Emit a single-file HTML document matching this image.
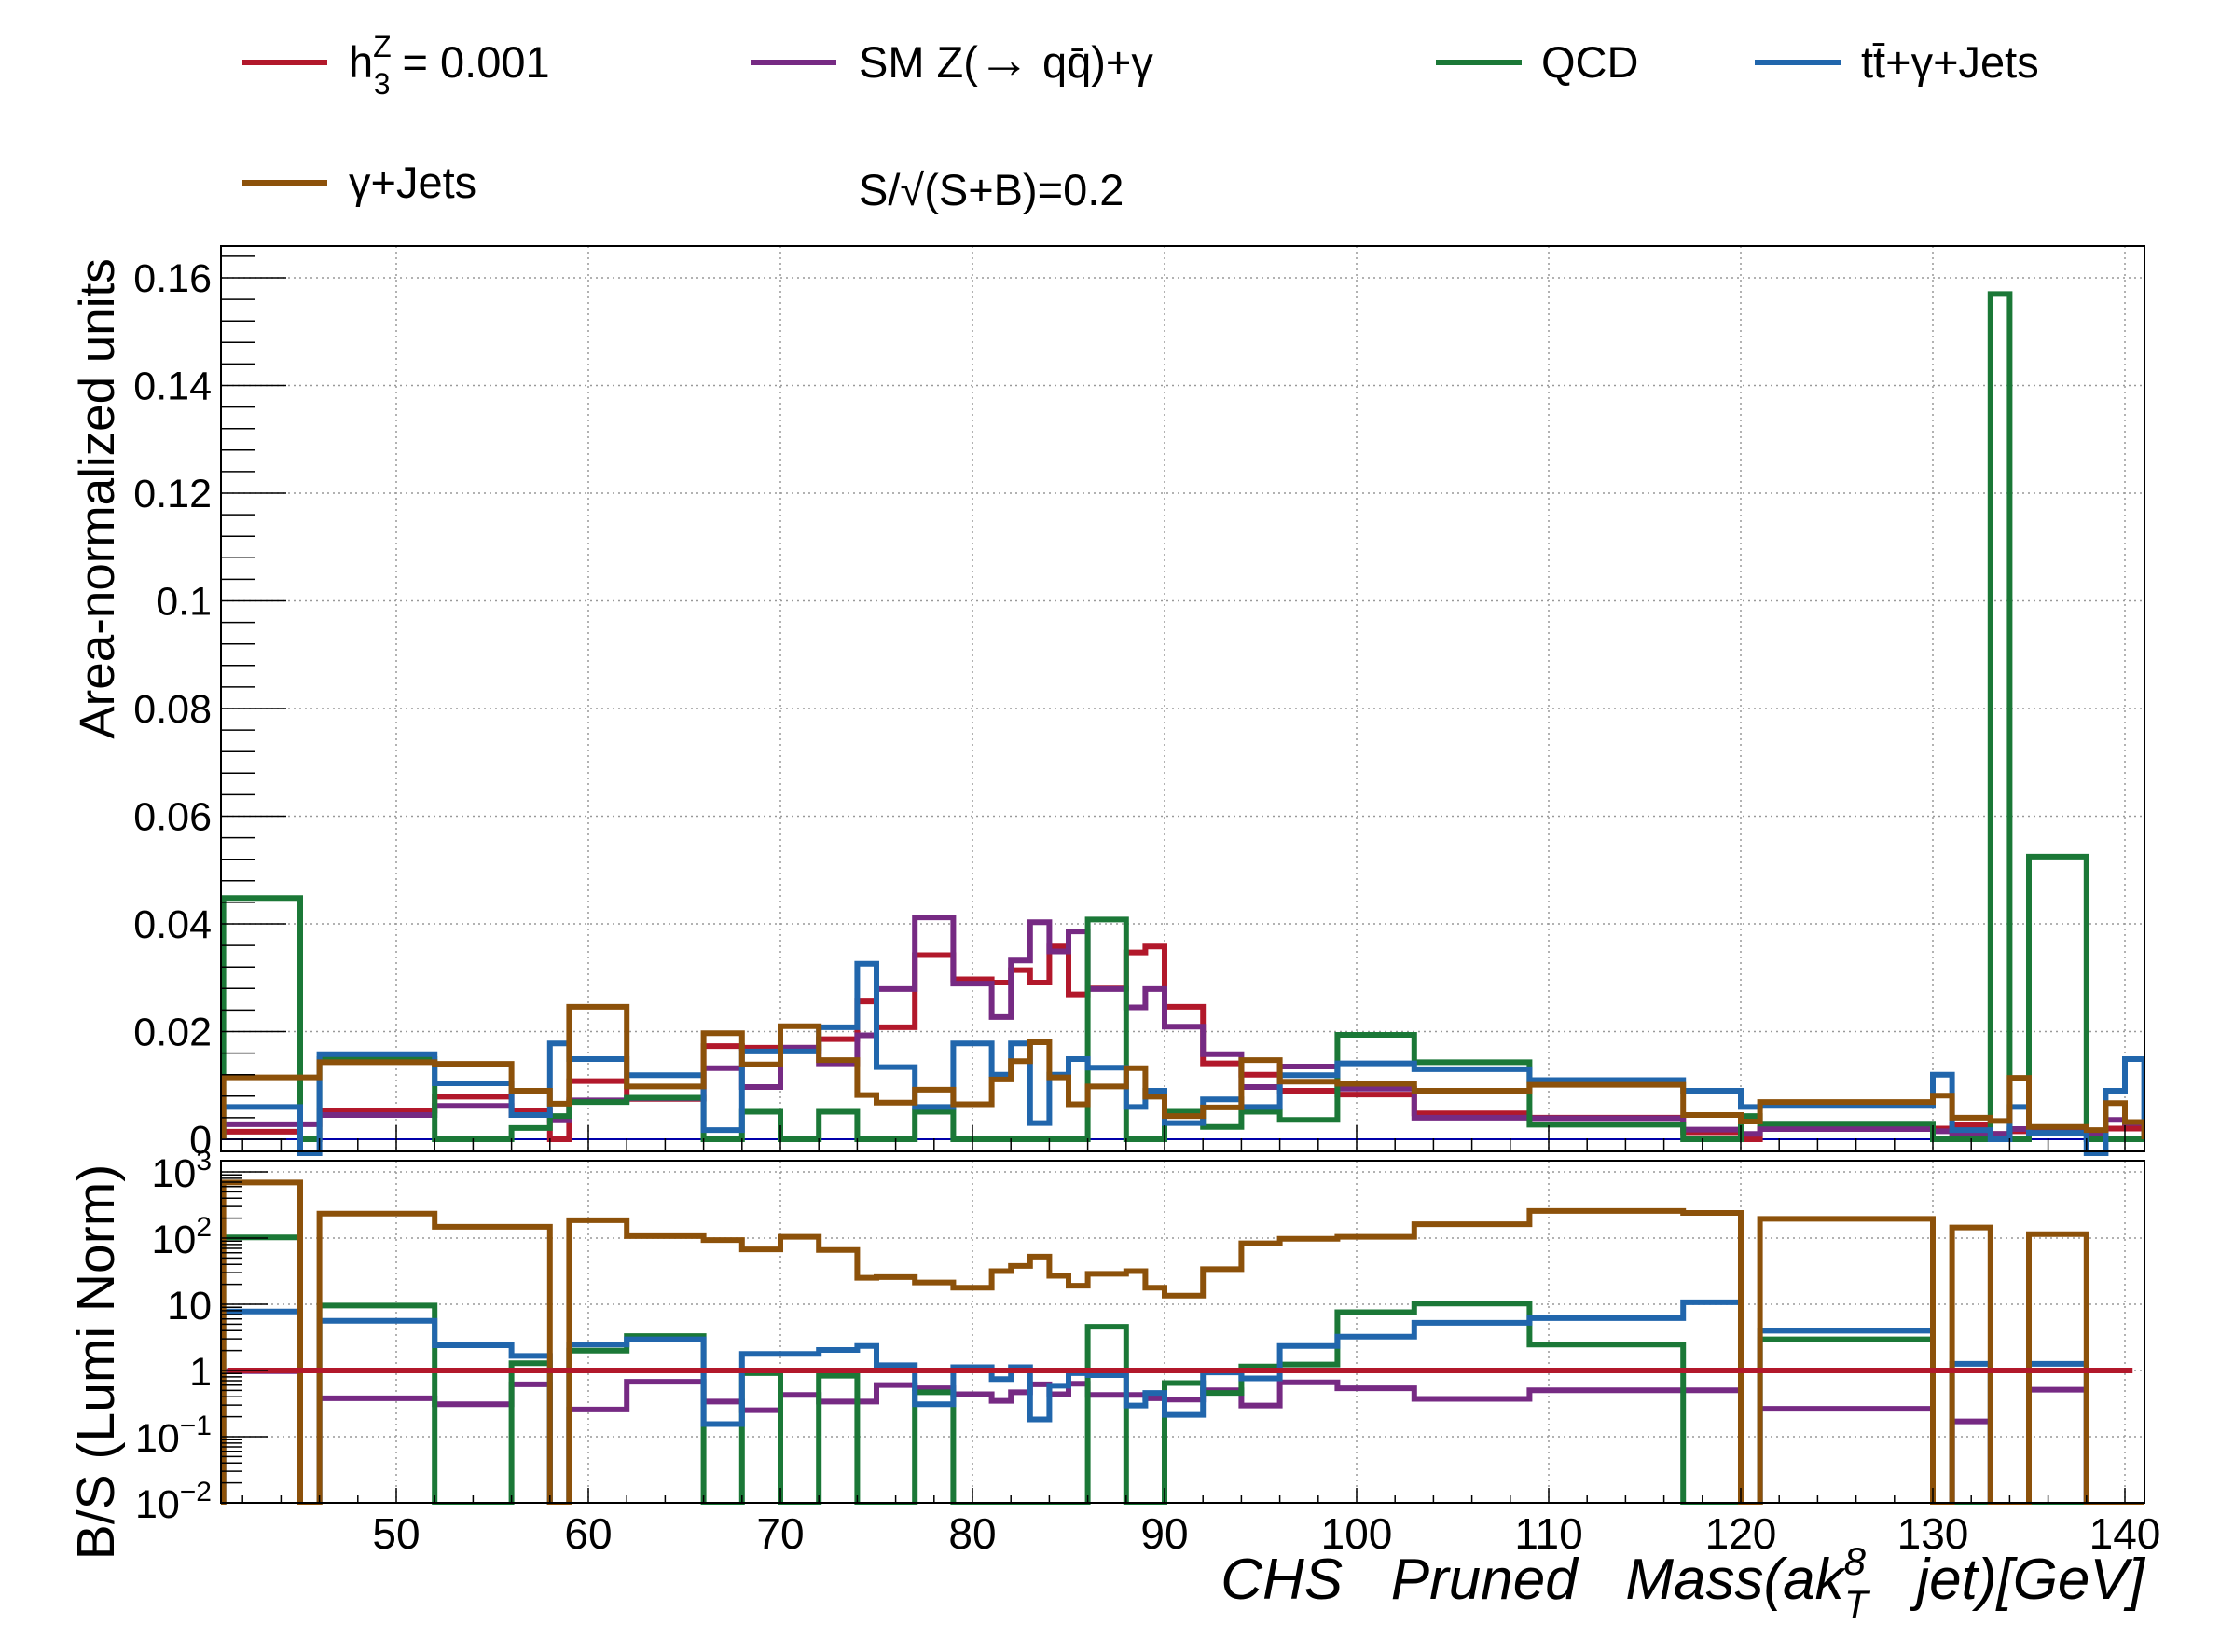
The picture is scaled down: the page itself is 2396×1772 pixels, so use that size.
<!DOCTYPE html>
<html><head><meta charset="utf-8"><style>
html,body{margin:0;padding:0;background:#fff;}
svg{display:block;font-family:"Liberation Sans",Arial,sans-serif;}
</style></head><body>
<svg id="chart" width="2396" height="1772" viewBox="0 0 2396 1772" xmlns="http://www.w3.org/2000/svg">
<defs>
<clipPath id="clipU"><rect x="237" y="264" width="2063" height="976"/></clipPath>
<clipPath id="clipL"><rect x="237" y="1245" width="2063" height="369"/></clipPath>
</defs>
<rect x="0" y="0" width="2396" height="1772" fill="#fff"/>
<g id="gridU"></g>
<g id="gridL"></g>
<g id="histU" clip-path="url(#clipU)"></g>
<g id="histL" clip-path="url(#clipL)"></g>
<rect x="237" y="264" width="2063" height="971" fill="none" stroke="#000" stroke-width="2"/>
<rect x="237" y="1245" width="2063" height="367" fill="none" stroke="#000" stroke-width="2"/>
<g id="axes"></g>

<g font-size="47">
 <g><line x1="260" y1="67" x2="351" y2="67" stroke="#B2182B" stroke-width="6"/><text x="374" y="83">h<tspan font-size="32" dy="-22">Z</tspan><tspan font-size="32" dx="-19" dy="40">3</tspan><tspan dy="-18"> = 0.001</tspan></text></g>
 <g><line x1="805" y1="67" x2="897" y2="67" stroke="#762A83" stroke-width="6"/><text x="921" y="83">SM Z(<tspan font-size="56">→</tspan> qq̄)+γ</text></g>
 <g><line x1="1540" y1="67" x2="1632" y2="67" stroke="#1B7837" stroke-width="6"/><text x="1653" y="83">QCD</text></g>
 <g><line x1="1882" y1="67" x2="1974" y2="67" stroke="#2166AC" stroke-width="6"/><text x="1996" y="83">tt̄+γ+Jets</text></g>
 <g><line x1="260" y1="196" x2="351" y2="196" stroke="#8C510A" stroke-width="6"/><text x="374" y="212">γ+Jets</text></g>
 <text x="921" y="220">S/√(S+B)=0.2</text>
</g>
<text transform="translate(122,535) rotate(-90)" text-anchor="middle" font-size="53">Area-normalized units</text>
<text transform="translate(122,1461) rotate(-90)" text-anchor="middle" font-size="57">B/S (Lumi Norm)</text>
<text x="2300" y="1715" text-anchor="end" font-size="62" font-style="italic" xml:space="preserve">CHS   Pruned   Mass(ak<tspan font-size="42" dy="-26">8</tspan><tspan font-size="42" dx="-23" dy="46">T</tspan><tspan dy="-20">   jet)[GeV]</tspan></text>
</svg>
<script>
const edges=[41,45,46,52,56,58,59,62,66,68,70,72,74,75,77,79,81,82,83,84,85,86,88,89,90,92,94,96,99,103,109,117,120,121,130,131,133,134,135,138,139,140,141];
const signalVals=[0.0014,0,0.0053,0.0079,0.0053,0,0.0108,0.0075,0.0173,0.017,0.017,0.0186,0.0256,0.0208,0.0342,0.0297,0.0291,0.0314,0.0291,0.0358,0.0269,0.028,0.0347,0.0358,0.0246,0.0141,0.012,0.009,0.0083,0.0048,0.004,0.0013,0,0.002,0.002,0.0026,0.001,0.0015,0.0015,0.001,0.002,0.002];
const smVals=[0.0028,0.0028,0.0045,0.0062,0.0045,0.0035,0.0072,0.0076,0.0132,0.0097,0.017,0.0141,0.0193,0.0279,0.0412,0.0289,0.0227,0.0332,0.0403,0.0349,0.0386,0.0279,0.0245,0.0279,0.0209,0.0158,0.0097,0.0135,0.0094,0.004,0.0039,0.0018,0.001,0.0019,0.0015,0.001,0.001,0.0019,0.0019,0.001,0.0036,0.003];
const qcdVals=[0.0448,0,0.0149,0,0.0021,0.0043,0.0069,0.0077,0,0.0051,0,0.0051,0,0,0.0051,0,0,0,0,0,0,0.0408,0,0,0.0051,0.0023,0.0051,0.0036,0.0194,0.0143,0.0027,0,0.0043,0.0029,0,0,0.157,0,0.0525,0,0,0];
const ttVals=[0.006,-0.0027,0.0158,0.0104,0.0045,0.0178,0.0149,0.0119,0.0017,0.0163,0.0163,0.0208,0.0326,0.0134,0.006,0.0178,0.012,0.0178,0.003,0.012,0.0149,0.0133,0.006,0.009,0.003,0.0074,0.006,0.0119,0.0141,0.013,0.011,0.009,0.006,0.0062,0.012,0.0017,0,0.006,0.0012,-0.0029,0.009,0.0149];
const gjVals=[0.0115,0.0115,0.0143,0.014,0.009,0.0066,0.0246,0.0098,0.0197,0.0139,0.021,0.0147,0.0082,0.0068,0.0092,0.0065,0.0111,0.0145,0.018,0.0115,0.0065,0.0098,0.0132,0.0079,0.0043,0.0059,0.0147,0.0107,0.0103,0.009,0.0101,0.0045,0.0033,0.0069,0.0081,0.004,0.0034,0.0114,0.0023,0.0017,0.0067,0.0032];
// ratio panel: log10(B/S); -3 = empty bin (drawn at bottom)
const ratioSM=[-0.01,-3,-0.42,-0.51,-0.21,-3,-0.59,-0.17,-0.47,-0.6,-0.37,-0.47,-0.47,-0.22,-0.27,-0.36,-0.46,-0.33,-0.21,-0.36,-0.2,-0.37,-0.37,-0.42,-0.44,-0.3,-0.53,-0.18,-0.27,-0.43,-0.3,-0.3,-3,-0.58,-3,-0.77,-3,-3,-0.29,-3,-3,-3];
const ratioQCD=[2.01,-3,0.98,-3,0.11,-3,0.3,0.52,-3,-0.04,-3,-0.08,-3,-3,-0.33,-3,-3,-3,-3,-3,-3,0.66,-3,-3,-0.19,-0.34,0.06,0.09,0.88,1.01,0.39,-3,-3,0.47,-3,-3,-3,-3,-3,-3,-3,-3];
const ratioTT=[0.89,-3,0.75,0.38,0.22,-3,0.39,0.47,-0.81,0.25,0.25,0.31,0.37,0.08,-0.51,0.05,-0.13,0.05,-0.74,-0.23,-0.04,-0.07,-0.53,-0.34,-0.67,-0.03,-0.12,0.37,0.51,0.72,0.79,1.03,-3,0.6,-3,0.1,-3,-3,0.1,-3,-3,-3];
const ratioGJ=[2.84,-3,2.37,2.17,2.17,-3,2.27,2.03,1.97,1.83,2.02,1.82,1.4,1.41,1.33,1.25,1.5,1.58,1.72,1.43,1.28,1.46,1.5,1.25,1.13,1.53,1.92,1.99,2.02,2.21,2.41,2.38,-3,2.29,-3,2.16,-3,-3,2.06,-3,-3,-3];
const yTicksU=[0,0.02,0.04,0.06,0.08,0.1,0.12,0.14,0.16];
const yLabelsU=["0","0.02","0.04","0.06","0.08","0.1","0.12","0.14","0.16"];
const xTicks=[50,60,70,80,90,100,110,120,130,140];
const logTicks=[-2,-1,0,1,2,3];

const NS="http://www.w3.org/2000/svg";
const X=v=>425+(v-50)*20.6;
const YU=v=>1222-v/0.02*115.5;
const YL=v=>1470-Math.max(-2.05,Math.min(3.3,v))*71;
function mk(tag,attrs,parent){const e=document.createElementNS(NS,tag);for(const k in attrs)e.setAttribute(k,attrs[k]);parent.appendChild(e);return e;}
function histPath(vals,Y,base){let d="M"+X(edges[0])+","+base;for(let i=0;i<vals.length;i++){d+=" L"+X(edges[i])+","+Y(vals[i])+" L"+X(edges[i+1])+","+Y(vals[i]);}d+=" L"+X(edges[edges.length-1])+","+base;return d;}

const gU=document.getElementById('gridU'),gL=document.getElementById('gridL'),ax=document.getElementById('axes');
const hU=document.getElementById('histU'),hL=document.getElementById('histL');
yTicksU.forEach(v=>{const l=mk('line',{x1:237,x2:2300,y1:YU(v),y2:YU(v),stroke:'#999','stroke-width':1.5,'stroke-dasharray':'2,4'},gU);

});
xTicks.forEach(v=>{const l=mk('line',{x1:X(v),x2:X(v),y1:264,y2:1235,stroke:'#999','stroke-width':1.5,'stroke-dasharray':'2,4'},gU);


const l2=mk('line',{x1:X(v),x2:X(v),y1:1245,y2:1612,stroke:'#999','stroke-width':1.5,'stroke-dasharray':'2,4'},gL);

});
logTicks.forEach(v=>{const l=mk('line',{x1:237,x2:2300,y1:YL(v),y2:YL(v),stroke:'#999','stroke-width':1.5,'stroke-dasharray':'2,4'},gL);

});
const z=mk('line',{x1:237,x2:2300,y1:YU(0),y2:YU(0),stroke:'#0000AA','stroke-width':2},hU);


[["signal-hist",signalVals,"#B2182B"],["sm-zgamma-hist",smVals,"#762A83"],["qcd-hist",qcdVals,"#1B7837"],["ttgamma-hist",ttVals,"#2166AC"],["gamma-jets-hist",gjVals,"#8C510A"]].forEach(s=>{
const p=mk('path',{d:histPath(s[1],YU,YU(0)),fill:'none',stroke:s[2],'stroke-width':6,'stroke-linejoin':'miter'},hU);

});
[["ratio-sm-zgamma",ratioSM,"#762A83"],["ratio-qcd",ratioQCD,"#1B7837"],["ratio-ttgamma",ratioTT,"#2166AC"],["ratio-gamma-jets",ratioGJ,"#8C510A"]].forEach(s=>{
const p=mk('path',{d:histPath(s[1],YL,1625),fill:'none',stroke:s[2],'stroke-width':6},hL);

});
const r1=mk('line',{x1:X(41.2),x2:X(140.4),y1:YL(0),y2:YL(0),stroke:'#B2182B','stroke-width':6},hL);


for(let v=0;v<=0.1665;v+=0.004){const maj=Math.abs(v/0.02-Math.round(v/0.02))<1e-6;
const t=mk('line',{x1:237,x2:237+(maj?70:36),y1:YU(v),y2:YU(v),stroke:'#000','stroke-width':1.5},ax);

}
yTicksU.forEach((v,i)=>{const t=mk('text',{x:227,y:YU(v)+15,'text-anchor':'end','font-size':43},ax);t.textContent=yLabelsU[i];

});
for(let v=42;v<=140;v+=2){const maj=v%10===0;
const t=mk('line',{x1:X(v),x2:X(v),y1:1235,y2:1235-(maj?28:14),stroke:'#000','stroke-width':1.5},ax);


const t2=mk('line',{x1:X(v),x2:X(v),y1:1612,y2:1612-(maj?16:8),stroke:'#000','stroke-width':1.5},ax);

}
xTicks.forEach(v=>{const t=mk('text',{x:X(v),y:1661,'text-anchor':'middle','font-size':46},ax);t.textContent=String(v);

});
for(let d=-2;d<=3;d++){for(let m=1;m<=9;m++){const lv=d+Math.log10(m);if(lv>3.2)break;
const t=mk('line',{x1:237,x2:237+(m===1?50:23),y1:YL(lv),y2:YL(lv),stroke:'#000','stroke-width':1.5},ax);

}}
logTicks.forEach(v=>{const t=mk('text',{x:227,y:YL(v)+16,'text-anchor':'end','font-size':43},ax);
if(v===0)t.textContent='1';else if(v===1)t.textContent='10';else{t.textContent='10';const s=mk('tspan',{'font-size':30,dy:-18},t);s.textContent=(v<0?'−':'')+Math.abs(v);}

});
</script>
</body></html>
